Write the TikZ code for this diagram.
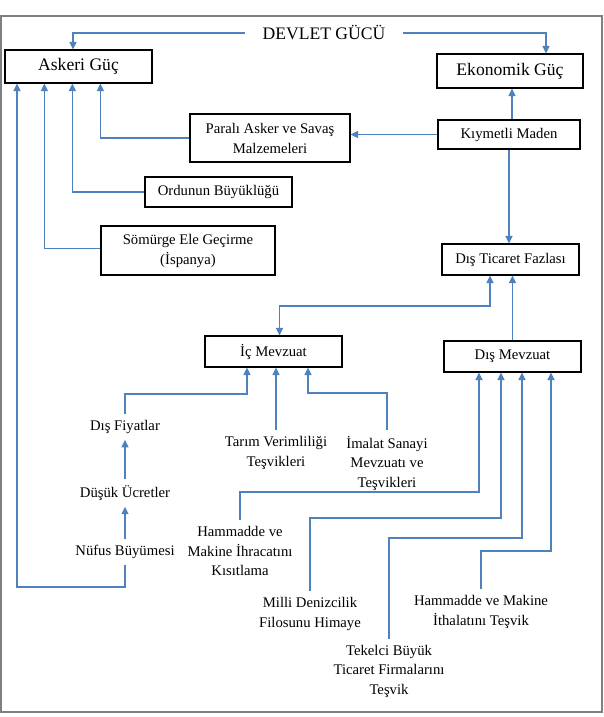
\documentclass[tikz,border=0pt]{standalone}
\usepackage{fontspec}
\setmainfont{Liberation Serif}
\usetikzlibrary{arrows.meta}
\definecolor{lnblue}{RGB}{79,129,189}
\definecolor{framegray}{RGB}{128,128,128}
\tikzset{
  box/.style={draw=black, line width=1.2pt, minimum width=#1, inner sep=0pt, align=center,
    font=\fontsize{14.7}{20}\selectfont},
  bigbox/.style={box=#1, font=\fontsize{17.6}{20}\selectfont},
  lbl/.style={align=center, inner xsep=2pt, inner ysep=6pt, font=\fontsize{14.7}{19.5}\selectfont},
  conn/.style={draw=lnblue, line width=1.4pt},
  arr/.style={conn, -{Triangle[length=7.5pt,width=7pt]}},
  darr/.style={conn, {Triangle[length=7.5pt,width=7pt]}-{Triangle[length=7.5pt,width=7pt]}}
}
\begin{document}
\begin{tikzpicture}[x=1pt,y=-1pt]
\useasboundingbox (0,0) rectangle (604,717);
\draw[framegray, line width=1.5pt] (0.8,16) rectangle (602,712);

% boxes
\node[bigbox=147pt, minimum height=33pt] (askeri) at (78.5,66.5) {Askeri Güç};
\node[bigbox=146pt, minimum height=34pt] (ekonomik) at (510,71) {Ekonomik Güç};
\node[box=160pt, minimum height=48pt] (parali) at (270,138) {Paralı Asker ve Savaş\\Malzemeleri};
\node[box=142pt, minimum height=29pt] (kiymetli) at (509,134.5) {Kıymetli Maden};
\node[box=147pt, minimum height=30pt] (ordunun) at (218.5,192) {Ordunun Büyüklüğü};
\node[box=174pt, minimum height=49pt] (somurge) at (188,250.5) {Sömürge Ele Geçirme\\(İspanya)};
\node[box=137pt, minimum height=31pt] (dtf) at (510.5,259.5) {Dış Ticaret Fazlası};
\node[box=137pt, minimum height=31pt] (icm) at (273.5,351.5) {İç Mevzuat};
\node[box=137pt, minimum height=31pt] (dism) at (512.5,356.5) {Dış Mevzuat};

% free labels
\node[font=\fontsize{17.6}{20}\selectfont, inner xsep=17pt] (devlet) at (324,33) {DEVLET GÜCÜ};
\node[lbl] (disfiyat) at (125,427) {Dış Fiyatlar};
\node[lbl] (dusuk) at (125,493) {Düşük Ücretler};
\node[lbl] (nufus) at (125,552) {Nüfus Büyümesi};
\node[lbl] (tarim) at (276,453) {Tarım Verimliliği\\Teşvikleri};
\node[lbl] (imalat) at (387,463) {İmalat Sanayi\\Mevzuatı ve\\Teşvikleri};
\node[lbl] (hamih) at (240,551) {Hammadde ve\\Makine İhracatını\\Kısıtlama};
\node[lbl] (milli) at (310,614) {Milli Denizcilik\\Filosunu Himaye};
\node[lbl] (tekelci) at (389,671) {Tekelci Büyük\\Ticaret Firmalarını\\Teşvik};
\node[lbl] (hamit) at (481,612) {Hammadde ve Makine\\İthalatını Teşvik};

% helper coordinates
\coordinate (nb) at (17,587);
\coordinate (dj) at (490,306);
\coordinate (df) at (247,394);
\coordinate (im) at (308,393);
\coordinate (h1) at (479,492);
\coordinate (h2) at (501,518);
\coordinate (h3) at (522,538);
\coordinate (h4) at (551,551);

% connectors
\draw[arr] (devlet.west) -| ([xshift=-5.5pt]askeri.north);
\draw[arr] (devlet.east) -| ([xshift=36pt]ekonomik.north);
\draw[arr] (parali.west) -| ([xshift=96pt]askeri.south west);
\draw[arr] (ordunun.west) -| ([xshift=68pt]askeri.south west);
\draw[arr] ([yshift=2pt]somurge.west) -| ([xshift=40pt]askeri.south west);
\draw[arr] (nufus.south) |- (nb) -- (nb |- askeri.south);
\draw[arr] ([xshift=3pt]kiymetli.north) -- ([xshift=3pt]kiymetli.north |- ekonomik.south);
\draw[arr] (kiymetli.west) -- (kiymetli.west -| parali.east);
\draw[arr] (kiymetli.south) -- (kiymetli.south |- dtf.north);
\draw[darr] ([xshift=6pt]icm.north) |- (dj) -- (dj |- dtf.south);
\draw[arr] (dism.north) -- (dism.north |- dtf.south);
\draw[arr] (disfiyat.north) |- (df) -- (df |- icm.south);
\draw[arr] (tarim.north) -- (tarim.north |- icm.south);
\draw[arr] (imalat.north) |- (im) -- (im |- icm.south);
\draw[arr] (dusuk.north) -- (disfiyat.south);
\draw[arr] (nufus.north) -- (dusuk.south);
\draw[arr] (hamih.north) |- (h1) -- (h1 |- dism.south);
\draw[arr] (milli.north) |- (h2) -- (h2 |- dism.south);
\draw[arr] (tekelci.north) |- (h3) -- (h3 |- dism.south);
\draw[arr] (hamit.north) |- (h4) -- (h4 |- dism.south);
\end{tikzpicture}
\end{document}
